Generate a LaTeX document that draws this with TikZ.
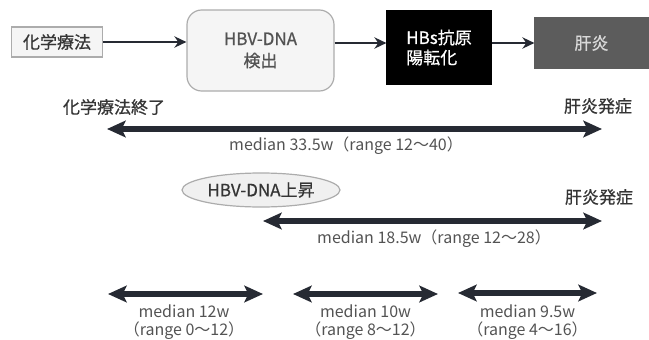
\documentclass[tikz,border=0pt]{standalone}
\usepackage{fontspec}
\setmainfont{Noto Sans CJK JP}
\newfontfamily\medfont[FakeBold=0.7]{Noto Sans CJK JP}
\usetikzlibrary{positioning,shapes.geometric,arrows.meta}
\definecolor{arrowcol}{HTML}{262A33}
\definecolor{textcol}{HTML}{353535}
\definecolor{hepcol}{HTML}{5C5C5C}

\tikzset{
	flowbox/.style={draw=gray!65, fill=gray!8, line width=0.9pt, text=textcol, font=\fontsize{12.75}{15}\selectfont\medfont, inner sep=0pt, align=center},
	flow/.style={draw=arrowcol, line width=1.9pt, -{Stealth[length=9pt,width=8.5pt]}},
	span/.style={draw=arrowcol, line width=3.9pt, {Stealth[length=14pt,width=12.5pt,inset=3pt]}-{Stealth[length=14pt,width=12.5pt,inset=3pt]}},
	eventtext/.style={text=textcol, font=\fontsize{12.75}{15}\selectfont\medfont},
	medtext/.style={text=textcol!85, font=\fontsize{12}{13.5}\selectfont, align=center}
}

\begin{document}
\begin{tikzpicture}[x=0.75pt,y=-0.75pt]

	\useasboundingbox (0,0) rectangle (649,339);

	\node[flowbox, minimum width=68.25pt, minimum height=22.5pt] (chemo) at (57,42) {化学療法};
	\node[flowbox, rounded corners=11pt, minimum width=110.25pt, minimum height=60.75pt, text=textcol!85, font=\fontsize{12.75}{16.5}\selectfont\medfont] (detect) at (260.5,50.5) {HBV-DNA\\検出};
	\node[flowbox, draw=black, fill=black, text=white, minimum width=78pt, minimum height=54.75pt, align=left] (hbs) at (439,47.5) {HBs抗原\\陽転化};
	\node[flowbox, draw=hepcol, fill=hepcol, text=white!85!black, minimum width=84.75pt, minimum height=37.5pt] (hep) at (591.5,43) {肝炎};

	\draw[flow] (chemo.east) -- (chemo.east -| detect.west);
	\draw[flow] (detect.east |- 0,43) -- (hbs.west |- 0,43);
	\draw[flow] (hbs.east |- hep) -- (hep.west);

	\node[eventtext] (endchemo) at (114,107) {化学療法終了};
	\node[eventtext] (onset) at (598,106) {肝炎発症};
	\coordinate (spanAl) at (107,129);
	\coordinate (spanAr) at (602,129);
	\draw[span] (spanAl) -- (spanAr);
	\node[medtext] (medA) at (346,146) {median 33.5w（range 12〜40）};

	\node[ellipse, draw=gray!65, fill=gray!12, line width=0.9pt, minimum width=118.5pt, minimum height=25.5pt, inner sep=0pt, text=textcol, font=\fontsize{12.75}{15}\selectfont\medfont] (rise) at (261,190) {HBV-DNA上昇};
	\node[eventtext] (onsetB) at (599,197) {肝炎発症};
	\coordinate (spanBl) at (263,221);
	\coordinate (spanBr) at (602,221);
	\draw[span] (spanBl) -- (spanBr);
	\node[medtext] (medB) at (434,239) {median 18.5w（range 12〜28）};

	\coordinate (spanCl) at (108,294);
	\coordinate (spanCr) at (263,294);
	\draw[span] (spanCl) -- (spanCr);
	\node[medtext] (medC) at (184,322) {median 12w\\（range 0〜12）};

	\coordinate (spanDl) at (293,294);
	\coordinate (spanDr) at (438,294);
	\draw[span] (spanDl) -- (spanDr);
	\node[medtext] (medD) at (365.5,322) {median 10w\\（range 8〜12）};

	\coordinate (spanEl) at (458,293);
	\coordinate (spanEr) at (597,293);
	\draw[span] (spanEl) -- (spanEr);
	\node[medtext] (medE) at (527.5,322) {median 9.5w\\（range 4〜16）};

\end{tikzpicture}
\end{document}
